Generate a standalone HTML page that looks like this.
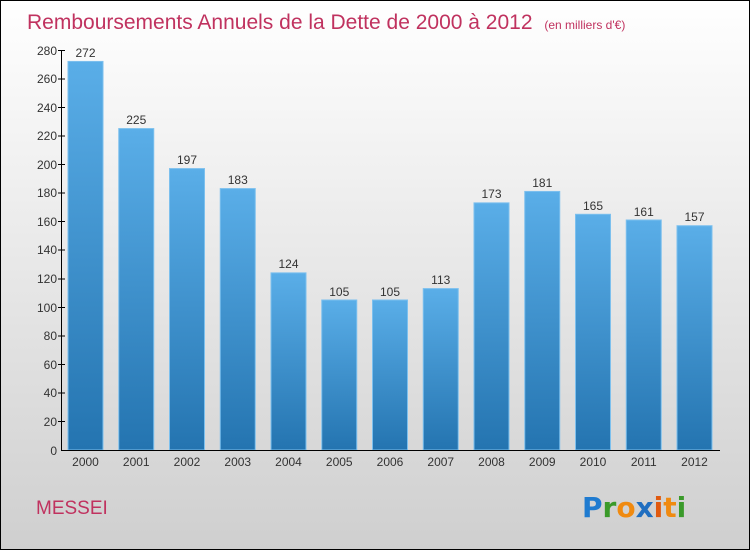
<!DOCTYPE html>
<html><head><meta charset="utf-8"><style>
html,body{margin:0;padding:0;}
body{width:750px;height:550px;overflow:hidden;}
</style></head><body>
<svg width="750" height="550" xmlns="http://www.w3.org/2000/svg" font-family="Liberation Sans, sans-serif">
<defs>
<linearGradient id="bg" x1="0" y1="0" x2="0" y2="1">
<stop offset="0" stop-color="#ffffff"/><stop offset="1" stop-color="#cfcfcf"/>
</linearGradient>
<linearGradient id="bar" x1="0" y1="0" x2="0" y2="1">
<stop offset="0" stop-color="#5aaee8"/><stop offset="1" stop-color="#2474b0"/>
</linearGradient>
</defs>
<rect x="0.5" y="0.5" width="749" height="549" fill="url(#bg)" stroke="#000"/>
<text x="27" y="29" font-size="21" fill="#c0325f">Remboursements Annuels de la Dette de 2000 à 2012 <tspan font-size="12" dx="6">(en milliers d'€)</tspan></text>
<g fill="url(#bar)" stroke="#7cc0ee" stroke-width="1">
<rect x="68" y="61.43" width="35" height="388.57"/>
<rect x="118.75" y="128.57" width="35" height="321.43"/>
<rect x="169.5" y="168.57" width="35" height="281.43"/>
<rect x="220.25" y="188.57" width="35" height="261.43"/>
<rect x="271" y="272.86" width="35" height="177.14"/>
<rect x="321.75" y="300" width="35" height="150"/>
<rect x="372.5" y="300" width="35" height="150"/>
<rect x="423.25" y="288.57" width="35" height="161.43"/>
<rect x="474" y="202.86" width="35" height="247.14"/>
<rect x="524.75" y="191.43" width="35" height="258.57"/>
<rect x="575.5" y="214.29" width="35" height="235.71"/>
<rect x="626.25" y="220" width="35" height="230"/>
<rect x="677" y="225.71" width="35" height="224.29"/>
</g>
<g font-size="12" fill="#333" text-anchor="middle">
<text x="85.5" y="57">272</text>
<text x="136.25" y="124">225</text>
<text x="187" y="164">197</text>
<text x="237.75" y="184">183</text>
<text x="288.5" y="268">124</text>
<text x="339.25" y="296">105</text>
<text x="390" y="296">105</text>
<text x="440.75" y="284">113</text>
<text x="491.5" y="198">173</text>
<text x="542.25" y="187">181</text>
<text x="593" y="210">165</text>
<text x="643.75" y="216">161</text>
<text x="694.5" y="221">157</text>
</g>
<g stroke="#000" stroke-width="1">
<line x1="61.5" y1="50" x2="61.5" y2="450.5"/>
<line x1="61" y1="450.5" x2="720" y2="450.5"/>
<g>
<line x1="58" y1="50.5" x2="65" y2="50.5"/><line x1="58" y1="79" x2="65" y2="79"/><line x1="58" y1="107.5" x2="65" y2="107.5"/><line x1="58" y1="136" x2="65" y2="136"/><line x1="58" y1="164.5" x2="65" y2="164.5"/><line x1="58" y1="193" x2="65" y2="193"/><line x1="58" y1="221.5" x2="65" y2="221.5"/><line x1="58" y1="250" x2="65" y2="250"/><line x1="58" y1="279" x2="65" y2="279"/><line x1="58" y1="307.5" x2="65" y2="307.5"/><line x1="58" y1="336" x2="65" y2="336"/><line x1="58" y1="364.5" x2="65" y2="364.5"/><line x1="58" y1="393" x2="65" y2="393"/><line x1="58" y1="421.5" x2="65" y2="421.5"/>
</g>
</g>
<g font-size="12" fill="#333" text-anchor="end">
<text x="57" y="55">280</text><text x="57" y="83">260</text><text x="57" y="112">240</text><text x="57" y="140">220</text><text x="57" y="169">200</text><text x="57" y="197">180</text><text x="57" y="226">160</text><text x="57" y="254">140</text><text x="57" y="283">120</text><text x="57" y="312">100</text><text x="57" y="340">80</text><text x="57" y="369">60</text><text x="57" y="397">40</text><text x="57" y="426">20</text><text x="57" y="455">0</text>
</g>
<g font-size="12" fill="#333" text-anchor="middle">
<text x="85.5" y="466">2000</text><text x="136.25" y="466">2001</text><text x="187" y="466">2002</text><text x="237.75" y="466">2003</text><text x="288.5" y="466">2004</text><text x="339.25" y="466">2005</text><text x="390" y="466">2006</text><text x="440.75" y="466">2007</text><text x="491.5" y="466">2008</text><text x="542.25" y="466">2009</text><text x="593" y="466">2010</text><text x="643.75" y="466">2011</text><text x="694.5" y="466">2012</text>
</g>
<text x="36" y="514" font-size="19" fill="#c0325f">MESSEI</text>
<g font-size="28" font-weight="bold" font-family="DejaVu Sans, sans-serif">
<text x="582" y="517"><tspan fill="#1f7bd0">P</tspan><tspan fill="#3a9a2a">r</tspan><tspan fill="#f08a10">o</tspan><tspan fill="#1f6ec0">x</tspan><tspan fill="#e05a10">i</tspan><tspan fill="#f08a10">t</tspan><tspan fill="#3a9a2a">i</tspan></text>
</g>
</svg>
</body></html>
